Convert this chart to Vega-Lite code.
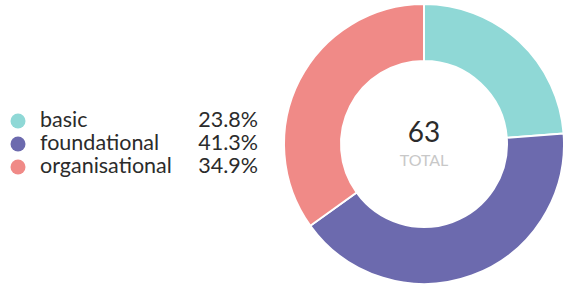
{
  "$schema": "https://vega.github.io/schema/vega-lite/v6.json",
  "padding": 0,
  "background": "white",
  "config": {"view": {"stroke": null}, "font": "Lato"},
  "data": {"values": [
    {"category": "basic", "count": 15, "share": 0.238},
    {"category": "foundational", "count": 26, "share": 0.413},
    {"category": "organisational", "count": 22, "share": 0.349}
  ]},
  "spacing": 22,
  "hconcat": [
    {
      "spacing": 4,
      "hconcat": [
        {
          "width": 36,
          "height": 282,
          "mark": {"type": "point", "shape": "circle", "filled": true, "size": 225, "opacity": 1},
          "encoding": {
            "y": {"field": "category", "type": "nominal", "scale": {"type": "point", "padding": 0, "range": [118, 164]}, "axis": null},
            "color": {"field": "category", "type": "nominal", "legend": null,
              "scale": {"domain": ["basic", "foundational", "organisational"], "range": ["#8fd8d6", "#6c6aae", "#f08a87"]}}
          }
        },
        {
          "width": 218,
          "height": 282,
          "layer": [
            {
              "mark": {"type": "text", "align": "left", "baseline": "middle", "fontSize": 21.5, "color": "#2b2b2b", "font": "Lato"},
              "encoding": {
                "x": {"datum": 0, "type": "quantitative", "scale": {"domain": [0, 1]}, "axis": null},
                "y": {"field": "category", "type": "nominal", "scale": {"type": "point", "padding": 0, "range": [118, 164]}, "axis": null},
                "text": {"field": "category", "type": "nominal"}
              }
            },
            {
              "mark": {"type": "text", "align": "right", "baseline": "middle", "fontSize": 21.5, "color": "#2b2b2b", "font": "Lato"},
              "encoding": {
                "x": {"datum": 1, "type": "quantitative", "scale": {"domain": [0, 1]}, "axis": null},
                "y": {"field": "category", "type": "nominal", "scale": {"type": "point", "padding": 0, "range": [118, 164]}, "axis": null},
                "text": {"field": "share", "type": "quantitative", "format": ".1%"}
              }
            }
          ]
        }
      ]
    },
    {
      "width": 278,
      "height": 282,
      "layer": [
        {
          "mark": {"type": "arc", "innerRadius": 83, "outerRadius": 140, "stroke": "white", "strokeWidth": 2},
          "encoding": {
            "theta": {"field": "count", "type": "quantitative", "stack": true},
            "color": {"field": "category", "type": "nominal", "legend": null,
              "scale": {"domain": ["basic", "foundational", "organisational"], "range": ["#8fd8d6", "#6c6aae", "#f08a87"]}},
            "order": {"field": "category", "type": "nominal"}
          }
        },
        {
          "transform": [{"aggregate": [{"op": "sum", "field": "count", "as": "total"}]}],
          "mark": {"type": "text", "baseline": "middle", "align": "center", "fontSize": 28, "dy": -10, "color": "#2b2b2b", "font": "Lato"},
          "encoding": {"text": {"field": "total", "type": "quantitative"}}
        },
        {
          "transform": [{"aggregate": [{"op": "sum", "field": "count", "as": "total"}]}],
          "mark": {"type": "text", "baseline": "middle", "align": "center", "fontSize": 16, "dy": 17, "color": "#c8c8c8", "font": "Lato"},
          "encoding": {"text": {"datum": "TOTAL"}}
        }
      ]
    }
  ]
}
